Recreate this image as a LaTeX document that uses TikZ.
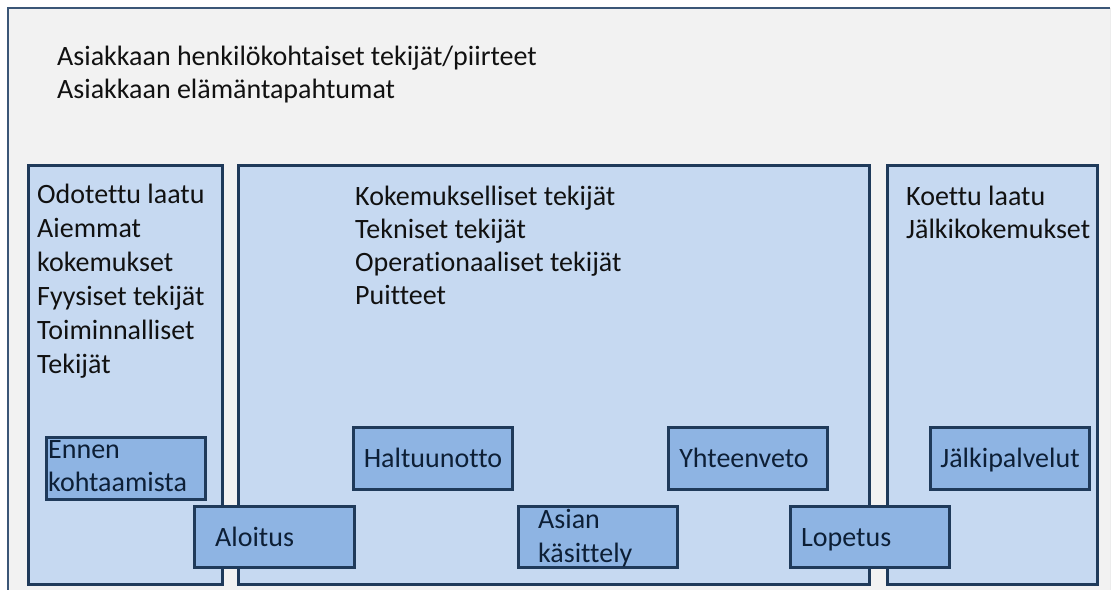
\documentclass[tikz,border=0pt]{standalone}
\usepackage{fontspec}
\setmainfont{Carlito}[Ligatures={NoCommon}]
\definecolor{framebg}{HTML}{F2F2F2}
\definecolor{frameline}{HTML}{3B5677}
\definecolor{panelfill}{HTML}{C6D9F1}
\definecolor{boxfill}{HTML}{8EB4E3}
\definecolor{edge}{HTML}{1F3A5A}
\definecolor{ink}{HTML}{111111}
\definecolor{boxink}{HTML}{0D1F36}
\newcommand{\stk}[1]{\begin{tabular}[t]{@{}l@{}}#1\end{tabular}}
\begin{document}
\begin{tikzpicture}[x=1pt,y=-1pt,
  panel/.style={draw=edge, line width=3pt, fill=panelfill, anchor=north west, inner sep=0pt, outer sep=0pt},
  stepbox/.style={draw=edge, line width=3pt, fill=boxfill, anchor=north west, inner sep=0pt, outer sep=0pt, minimum width=159pt, minimum height=62pt},
  txt/.style={font=\fontsize{28}{33}\selectfont, text=ink, inner sep=0pt, anchor=base west},
  wide/.style={font=\fontsize{28}{34}\selectfont},
  btxt/.style={txt, text=boxink}]
\useasboundingbox (0,0) rectangle (1116,589);
\fill[white] (0,0) rectangle (1116,589);
% outer frame
\fill[framebg] (8,8) rectangle (1110,600);
\draw[frameline, line width=2.2pt] (8,600) -- (8,8) -- (1110,8);
\draw[white!85!gray, line width=0.8pt] (1110,8) -- (1110,600);
% panels
\node[panel, minimum width=194pt, minimum height=419pt] (before) at (28,165) {};
\node[panel, minimum width=631pt, minimum height=419pt] (during) at (238,165) {};
\node[panel, minimum width=210pt, minimum height=419pt] (after) at (887,165) {};
% texts
\node[txt] (t0) at (57,65) {\stk{Asiakkaan henkilökohtaiset tekijät/piirteet\\Asiakkaan elämäntapahtumat}};
\node[txt, wide] (t1) at (37,203) {\stk{Odotettu laatu\\Aiemmat\\kokemukset\\Fyysiset tekijät\\Toiminnalliset\\Tekijät}};
\node[txt] (t2) at (355,205) {\stk{Kokemukselliset tekijät\\Tekniset tekijät\\Operationaaliset tekijät\\Puitteet}};
\node[txt] (t3) at (906,205) {\stk{Koettu laatu\\Jälkikokemukset}};
% upper step boxes
\node[stepbox] (ennen) at (46,437) {};
\node[stepbox] (haltuu) at (353,427) {};
\node[stepbox] (yht) at (668,427) {};
\node[stepbox] (jalki) at (930,427) {};
\node[btxt] at (48,458) {\stk{Ennen\\kohtaamista}};
\node[btxt, anchor=base] at (433,467) {Haltuunotto};
\node[btxt, anchor=base] at (744,467) {Yhteenveto};
\node[btxt, anchor=base] at (1010,467) {Jälkipalvelut};
% lower step boxes
\node[stepbox, minimum width=160pt, minimum height=61pt] (aloitus) at (194,506) {};
\node[stepbox, minimum height=61pt] (asian) at (518,506) {};
\node[stepbox, minimum height=61pt] (lopetus) at (790,506) {};
\node[btxt] at (215,546) {Aloitus};
\node[btxt, wide] at (538,528) {\stk{Asian\\käsittely}};
\node[btxt] at (801,546) {Lopetus};
\end{tikzpicture}
\end{document}
